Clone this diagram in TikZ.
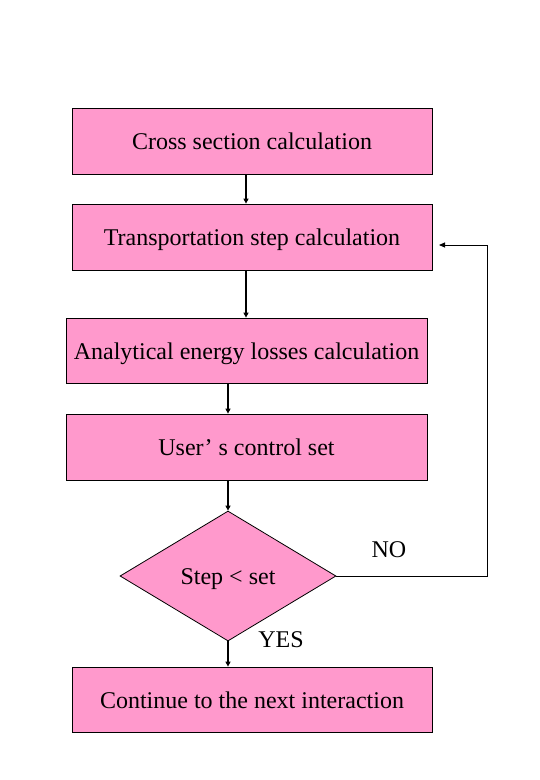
\documentclass[tikz,border=0pt]{standalone}
\usepackage{fontspec}
\setmainfont{Liberation Serif}
\usetikzlibrary{shapes.geometric,arrows.meta}
\definecolor{boxpink}{HTML}{FF99CC}
\begin{document}
\begin{tikzpicture}[x=1pt,y=-1pt,
  stepbox/.style={draw=black,line width=0.8pt,fill=boxpink,rectangle,inner sep=0pt,
    text height=17pt,text depth=0pt,font=\fontsize{24}{28}\selectfont},
  decide/.style={draw=black,line width=0.8pt,fill=boxpink,diamond,inner sep=0pt,
    text height=16pt,text depth=0pt,
    minimum width=216pt,minimum height=130pt,font=\fontsize{24}{28}\selectfont},
  lbl/.style={font=\fontsize{24}{28}\selectfont,inner sep=0pt},
  flow/.style={line width=1.6pt,-{Triangle[length=5pt,width=5pt]}},
  back/.style={line width=0.9pt,-{Triangle[length=6pt,width=5pt]}}]
\useasboundingbox (0,0) rectangle (540,780);
\node[stepbox,minimum width=360pt,minimum height=66pt] (b1) at (252,141) {Cross section calculation};
\node[stepbox,minimum width=360pt,minimum height=66pt] (b2) at (252,237) {Transportation step calculation};
\node[stepbox,minimum width=361pt,minimum height=65pt] (b3) at (246.5,350.5) {Analytical energy losses calculation};
\node[stepbox,minimum width=361pt,minimum height=66pt] (b4) at (246.5,447) {User’ s control set};
\node[decide] (d) at (228,576) {Step < set};
\node[stepbox,minimum width=360pt,minimum height=65pt] (b5) at (252,699.5) {Continue to the next interaction};
\node[lbl] (no) at (389,550) {NO};
\node[lbl] (yes) at (281,640) {YES};
\coordinate (c1) at (487,576);
\coordinate (c2) at (487,245);
\coordinate (c3) at (439,245);
\draw[flow] (b1.south -| 246,0) -- (b2.north -| 246,0);
\draw[flow] (b2.south -| 246,0) -- (b3.north -| 246,0);
\draw[flow] (b3.south -| 228,0) -- (b4.north -| 228,0);
\draw[flow] (b4.south -| 228,0) -- (d.north);
\draw[flow] (d.south) -- (b5.north -| 228,0);
\draw[back] (d.east) -- (c1) -- (c2) -- (c3);
\end{tikzpicture}
\end{document}
